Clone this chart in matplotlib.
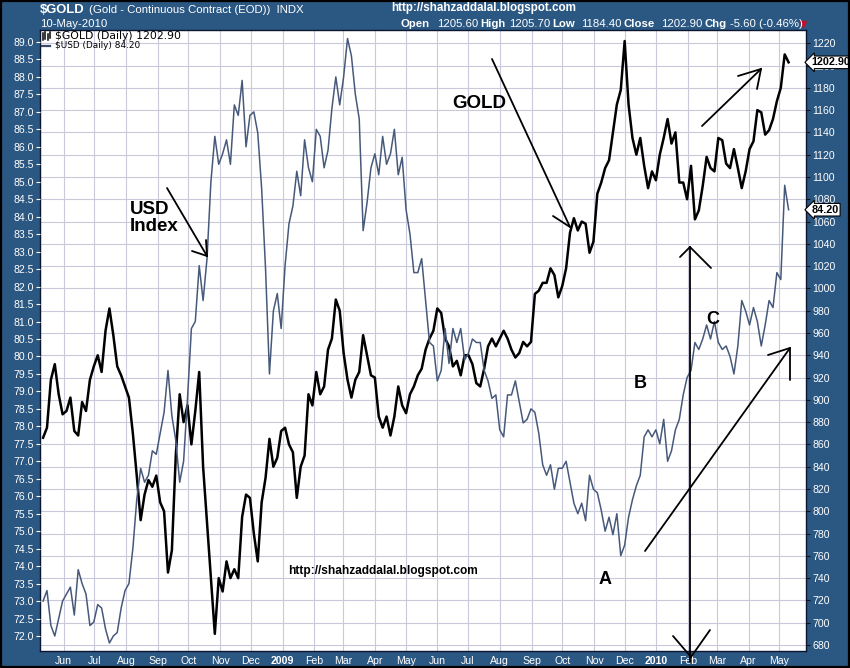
import matplotlib
matplotlib.use('Agg')
import matplotlib.pyplot as plt
import pandas as pd

W, H = 850, 668
BG = '#2b5883'

start_date = '2008-05-12'
end_date = '2010-05-10'

# $GOLD closes (right axis), sampled ~every 3.8 days
gold_close = [
    866, 875, 918, 932, 905, 887,                      # May 08
    890, 902, 872, 868, 898, 890, 918, 930,            # Jun
    940, 925, 962, 982, 958, 930, 922, 912,            # Jul
    902, 870, 832, 792, 815, 828, 822, 832,            # Aug
    808, 800, 745, 765, 850, 905, 880, 895,            # Sep
    860, 890, 925, 840, 790, 740, 690, 740,            # Oct
    728, 755, 740, 748, 740, 795, 815, 812,            # Nov
    780, 755, 808, 830, 865, 840, 848, 872,            # Dec
    875, 860, 853, 812, 840, 850, 905, 895,            # Jan 09
    925, 905, 912, 945, 955, 990, 980,                 # Feb
    942, 918, 902, 918, 925, 958, 940, 922,            # Mar
    920, 885, 875, 885, 868, 885, 912, 895,            # Apr
    888, 905, 912, 922, 928, 945, 955, 962,            # May
    982, 978, 955, 948, 930, 935, 922, 940,            # Jun
    940, 932, 915, 912, 928, 948, 955, 948,            # Jul
    955, 962, 955, 945, 938, 942, 952, 948, 952,       # Aug
    995, 998, 1005, 1005, 1018, 1012, 992,             # Sep
    1002, 1018, 1050, 1063, 1052, 1060, 1058, 1032, 1042,  # Oct
    1085, 1095, 1108, 1115, 1140, 1165, 1178,          # Nov
    1222, 1165, 1135, 1120, 1135, 1110, 1090, 1105, 1097,  # Dec
    1120, 1135, 1152, 1130, 1140, 1095, 1095, 1080,    # Jan 10
    1110, 1062, 1070, 1092, 1118, 1108, 1105,          # Feb
    1135, 1133, 1112, 1108, 1125, 1108, 1090, 1105,    # Mar
    1125, 1132, 1160, 1158, 1138, 1142, 1152, 1168,    # Apr
    1180, 1210, 1202.9,                                # May
]

# $USD index closes (left axis)
usd_close = [
    73.0, 73.3, 72.3, 72.0, 72.5, 73.0,
    73.2, 73.4, 72.6, 73.9, 73.5, 73.2, 72.3, 72.4,
    72.9, 72.8, 72.2, 71.8, 72.0, 72.1, 72.8, 73.3,
    73.5, 74.5, 75.9, 76.8, 76.4, 76.6, 77.3, 77.2,
    77.8, 78.4, 79.6, 78.3, 77.6, 76.4, 77.0, 78.8,
    80.8, 81.0, 82.6, 81.6, 82.8, 85.0, 86.3, 85.5,
    85.8, 86.2, 85.5, 87.2, 86.9, 87.9, 86.0, 86.9,
    87.0, 86.4, 84.8, 82.5, 79.5, 81.3, 81.8, 80.8,
    82.6, 83.8, 84.3, 85.3, 84.6, 86.2, 85.4, 85.0,
    86.5, 86.3, 85.4, 85.9, 87.1, 88.0, 87.2,
    88.0, 89.1, 88.6, 87.5, 86.8, 83.6, 84.4, 85.4,
    85.8, 85.2, 86.3, 85.5, 85.8, 86.5, 85.2, 85.7,
    84.2, 83.5, 82.4, 82.4, 82.8, 81.6, 80.4, 80.3,
    79.3, 79.6, 80.8, 79.8, 80.8, 80.4, 80.8, 79.9,
    80.1, 80.5, 80.4, 80.4, 79.6, 79.3, 78.8, 78.9,
    77.9, 77.7, 78.9, 78.9, 79.3, 78.7, 78.1, 78.2, 78.5,
    78.4, 77.8, 76.9, 76.6, 76.9, 76.2, 76.8,
    76.8, 77.0, 76.4, 75.8, 75.5, 75.8, 75.3, 76.6, 76.2,
    76.1, 75.6, 75.0, 75.4, 74.9, 75.5, 74.3,
    74.6, 75.4, 75.9, 76.3, 76.6, 77.7, 77.9, 77.7, 77.9,
    77.5, 78.2, 77.0, 77.3, 77.9, 78.2, 78.9, 79.4,
    79.6, 80.4, 80.2, 80.5, 80.9, 80.5, 81.0,
    80.4, 80.2, 80.3, 80.0, 79.5, 80.3, 81.6, 81.3,
    80.9, 81.4, 81.0, 80.3, 80.9, 81.6, 81.4, 82.4,
    82.2, 84.9, 84.2,
]

usd_ticks = [72.0 + 0.5 * k for k in range(35)]
gold_ticks = list(range(680, 1221, 20))
month_starts = pd.date_range('2008-06-01', '2010-05-01', freq='MS')
month_labels = ['Jun', 'Jul', 'Aug', 'Sep', 'Oct', 'Nov', 'Dec', '2009', 'Feb', 'Mar',
                'Apr', 'May', 'Jun', 'Jul', 'Aug', 'Sep', 'Oct', 'Nov', 'Dec', '2010',
                'Feb', 'Mar', 'Apr', 'May']

dates = pd.date_range(start_date, end_date, periods=len(gold_close))

FONT = 'Liberation Sans'
plt.rcParams['font.family'] = [FONT, 'DejaVu Sans']

fig = plt.figure(figsize=(W / 100, H / 100), dpi=100, facecolor=BG)

def fx(x):
    return x / W

def fy(y):
    return 1 - y / H

ax = fig.add_axes([fx(40), fy(651), (806 - 40) / W, (651 - 30) / H])
ax2 = ax.twinx()

ax.set_facecolor('white')
ax.plot(dates, gold_close, color='black', lw=1.8, zorder=3)
ax.set_ylim(674.6, 1231.9)
ax.set_xlim(pd.Timestamp('2008-05-09'), pd.Timestamp('2010-05-27'))
ax.set_yticks(gold_ticks)
ax.set_yticklabels([str(v) for v in gold_ticks])
ax.yaxis.tick_right()
ax.tick_params(axis='y', which='both', left=False, labelleft=False, right=True,
               labelright=True, labelcolor='white', color='#111111', labelsize=7.6,
               length=3, width=0.8, pad=1.5)
ax.set_xticks(month_starts)
ax.set_xticklabels(month_labels)
for lbl, txt in zip(ax.get_xticklabels(), month_labels):
    if txt.isdigit():
        lbl.set_fontweight('bold')
        lbl.set_fontsize(8.3)
ax.tick_params(axis='x', colors='white', labelsize=7.6, length=0, pad=3.5)
ax.grid(True, color='#c9c9db', lw=0.8, zorder=0)
for s in ax.spines.values():
    s.set_color('#0b1530')
    s.set_linewidth(1.0)

ax2.plot(dates, usd_close, color='#47597a', lw=1.1, zorder=4)
ax2.set_ylim(71.571, 89.343)
ax2.set_yticks(usd_ticks)
ax2.set_yticklabels(['%.1f' % v for v in usd_ticks])
ax2.yaxis.tick_left()
ax2.tick_params(axis='y', which='both', left=True, labelleft=True, right=False,
                labelright=False, labelcolor='white', color='white', labelsize=7.6,
                length=3, width=0.8, pad=1.5)
for s in ax2.spines.values():
    s.set_visible(False)

# value flags on right axis
ax.annotate('%.2f' % gold_close[-1], xy=(1.0, gold_close[-1]),
            xycoords=('axes fraction', 'data'), xytext=(4, 0), textcoords='offset points',
            ha='left', va='center', fontsize=7.8, fontweight='bold', color='black',
            bbox=dict(boxstyle='larrow,pad=0.12', fc='white', ec='black', lw=0.8),
            zorder=10, annotation_clip=False)
ax2.annotate('%.2f' % usd_close[-1], xy=(1.0, usd_close[-1]),
             xycoords=('axes fraction', 'data'), xytext=(4, 0), textcoords='offset points',
             ha='left', va='center', fontsize=7.8, fontweight='bold', color='black',
             bbox=dict(boxstyle='larrow,pad=0.12', fc='white', ec='black', lw=0.8),
             zorder=10, annotation_clip=False)

# overlay in pixel coordinates for header & hand annotations
ov = fig.add_axes([0, 0, 1, 1], facecolor='none')
ov.set_xlim(0, W)
ov.set_ylim(H, 0)
ov.axis('off')

ov.text(40, 10, '$GOLD', color='white', fontsize=9.4, fontweight='bold',
        ha='left', va='center')
ov.text(89, 10, '(Gold - Continuous Contract (EOD))  INDX', color='white',
        fontsize=8.2, ha='left', va='center')
ov.text(40, 24, '10-May-2010', color='white', fontsize=8.2, ha='left', va='center')
ov.text(391, 8, 'http://shahzaddalal.blogspot.com', color='white', fontsize=8.4,
        fontweight='bold', ha='left', va='center')
hdr = [(401, 'Open', True), (437, '1205.60', False), (480, 'High', True),
       (509, '1205.70', False), (552, 'Low', True), (581, '1184.40', False),
       (624, 'Close', True), (661, '1202.90', False), (705, 'Chg', True),
       (730, '-5.60 (-0.46%)', False)]
for x, t, b in hdr:
    ov.text(x, 24, t, color='white', fontsize=8.2, fontweight='bold' if b else 'normal',
            ha='left', va='center')
ov.plot([803], [24], marker='v', color='#c0102a', markersize=4.5)

# legend
ov.text(55, 36, '$GOLD (Daily) 1202.90', color='black', fontsize=7.8, ha='left',
        va='center', family='DejaVu Sans')
ov.text(55, 46, '$USD (Daily) 84.20', color='black', fontsize=6.4, ha='left',
        va='center', family='DejaVu Sans')
ov.plot([42, 50], [46, 46], color='#3a4a6a', lw=1.6)
for xx, y0, y1 in [(43, 33, 40), (45.5, 32, 39), (48, 34, 40), (50.5, 32, 38)]:
    ov.plot([xx, xx], [y0, y1], color='black', lw=1.1)

# hand-drawn annotations
BK = dict(color='black', lw=1.3, solid_capstyle='round')
segs = [
    [(167, 188), (207, 256)], [(192, 251), (207, 256)], [(206, 240), (207, 256)],
    [(492, 59), (570, 227)], [(553, 216), (570, 227)],
    [(702, 126), (761, 69)], [(738, 76), (761, 69)], [(761, 69), (757, 89)],
    [(690, 247), (690, 662)], [(690, 247), (711, 268)], [(690, 247), (680, 257)],
    [(673, 636), (691, 657)], [(710, 630), (691, 657)],
    [(645, 551), (790, 348)], [(768, 355), (790, 348)], [(790, 348), (790, 380)],
]
for (x0, y0), (x1, y1) in segs:
    ov.plot([x0, x1], [y0, y1], **BK)

ov.text(130, 218, 'USD\nIndex', fontsize=13.5, fontweight='bold', color='black',
        ha='left', va='center', linespacing=1.05)
ov.text(452, 104, 'GOLD', fontsize=13.5, fontweight='bold', color='black', ha='left', va='center')
ov.text(640, 384, 'B', fontsize=13, fontweight='bold', color='black', ha='center', va='center')
ov.text(713, 320, 'C', fontsize=13, fontweight='bold', color='black', ha='center', va='center')
ov.text(605, 579, 'A', fontsize=13, fontweight='bold', color='black', ha='center', va='center')
ov.text(288, 571, 'http://shahzaddalal.blogspot.com', fontsize=8.6, fontweight='bold',
        color='black', ha='left', va='center')

# outer frame
ov.plot([0.5, W - 0.5, W - 0.5, 0.5, 0.5], [0.5, 0.5, H - 0.8, H - 0.8, 0.5],
        color='black', lw=1.6)

fig.savefig('out.png', dpi=100, facecolor=BG)
